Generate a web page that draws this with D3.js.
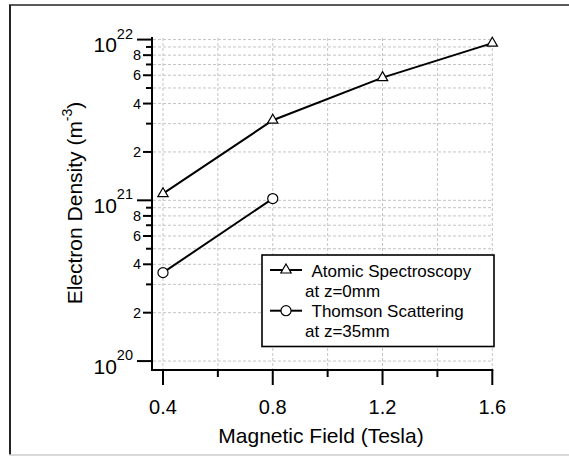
<!DOCTYPE html>
<html>
<head>
<meta charset="utf-8">
<script src="https://cdn.jsdelivr.net/npm/d3@7"></script>
<style>
  body { margin: 0; background: white; }
  svg { display: block; font-family: "Liberation Sans", Arial, sans-serif; }
</style>
</head>
<body>
<div id="chart"></div>
<script>
// data
const fieldAtomic = [0.4, 0.8, 1.2, 1.6];
const densityAtomic = [1.1e21, 3.15e21, 5.8e21, 9.5e21];
const fieldThomson = [0.4, 0.8];
const densityThomson = [3.55e20, 1.025e21];
const xMajorTicks = [0.4, 0.8, 1.2, 1.6];
const xMinorTicks = [0.6, 1.0, 1.4];
const legendNames = [["Atomic Spectroscopy", "at z=0mm"], ["Thomson Scattering", "at z=35mm"]];

const width = 569, height = 456;

const svg = d3.select("#chart").append("svg")
  .attr("width", width)
  .attr("height", height);

// outer frame (left + top dark, bottom faint)
svg.append("line").attr("x1", 10).attr("x2", 10).attr("y1", 5).attr("y2", 455)
  .attr("stroke", "#222").attr("stroke-width", 2);
svg.append("line").attr("x1", 9).attr("x2", width).attr("y1", 5).attr("y2", 5)
  .attr("stroke", "#222").attr("stroke-width", 1.6);
svg.append("line").attr("x1", 9).attr("x2", width).attr("y1", 455).attr("y2", 455)
  .attr("stroke", "#ccc").attr("stroke-width", 1.5);

const x = d3.scaleLinear().domain([0.36, 1.6]).range([152, 492.3]);
const y = d3.scaleLog().domain([8.8e19, 1.023e22]).range([370, 38]);

const yTicks = y.ticks().filter(d => d >= 1e20 * 0.999);
const mant = d => Math.round(d / Math.pow(10, Math.floor(Math.log10(d) + 1e-9)));

// grid
const grid = svg.append("g").attr("stroke", "#c4c4c4").attr("stroke-width", 1)
  .attr("stroke-dasharray", "3,2");
grid.selectAll(".gy").data(yTicks).enter().append("line")
  .attr("x1", x.range()[0] + 1).attr("x2", x(1.6))
  .attr("y1", d => y(d)).attr("y2", d => y(d));
grid.selectAll(".gx").data(xMajorTicks.concat(xMinorTicks)).enter().append("line")
  .attr("x1", d => x(d)).attr("x2", d => x(d))
  .attr("y1", y.range()[1]).attr("y2", y.range()[0]);

// y axis
const yAxis = svg.append("g");
yAxis.append("line").attr("x1", 152).attr("x2", 152)
  .attr("y1", y.range()[1] - 1).attr("y2", y.range()[0] + 1)
  .attr("stroke", "black").attr("stroke-width", 2);
yAxis.selectAll(".yt").data(yTicks).enter().append("line")
  .attr("x1", d => mant(d) === 1 ? 137 : (mant(d) % 2 === 0 ? 143 : 146))
  .attr("x2", 152)
  .attr("y1", d => y(d)).attr("y2", d => y(d))
  .attr("stroke", "black").attr("stroke-width", 2);
const ylab = yAxis.selectAll(".yl").data(yTicks.filter(d => mant(d) === 1 || mant(d) % 2 === 0))
  .enter().append("text")
  .attr("text-anchor", "end")
  .attr("fill", "black");
ylab.filter(d => mant(d) !== 1)
  .attr("x", 141).attr("y", d => y(d) + 5)
  .attr("font-size", 14.5)
  .text(d => mant(d));
ylab.filter(d => mant(d) === 1)
  .attr("x", 133).attr("y", d => y(d) + 12.5)
  .attr("font-size", 21)
  .each(function (d) {
    const t = d3.select(this);
    t.append("tspan").text("10");
    t.append("tspan").attr("font-size", 14.5).attr("dy", -13.5)
      .text(Math.round(Math.log10(d)));
  });

// x axis
const xAxis = svg.append("g");
xAxis.append("line").attr("x1", 151).attr("x2", x(1.6) + 1)
  .attr("y1", 370).attr("y2", 370)
  .attr("stroke", "black").attr("stroke-width", 2);
xAxis.selectAll(".xt").data(xMajorTicks).enter().append("line")
  .attr("x1", d => x(d)).attr("x2", d => x(d))
  .attr("y1", 370).attr("y2", 385)
  .attr("stroke", "black").attr("stroke-width", 2);
xAxis.selectAll(".xm").data(xMinorTicks).enter().append("line")
  .attr("x1", d => x(d)).attr("x2", d => x(d))
  .attr("y1", 370).attr("y2", 377)
  .attr("stroke", "black").attr("stroke-width", 2);
xAxis.selectAll(".xl").data(xMajorTicks).enter().append("text")
  .attr("x", d => x(d)).attr("y", 414)
  .attr("text-anchor", "middle").attr("font-size", 20)
  .text(d => d.toFixed(1));

// axis titles
svg.append("text")
  .attr("x", 321).attr("y", 443)
  .attr("text-anchor", "middle").attr("font-size", 21)
  .text("Magnetic Field (Tesla)");
const yt = svg.append("text")
  .attr("transform", "translate(82,203) rotate(-90)")
  .attr("text-anchor", "middle").attr("font-size", 21);
yt.append("tspan").text("Electron Density (m");
yt.append("tspan").attr("font-size", 14).attr("dy", -10).text("-3");
yt.append("tspan").attr("dy", 10).text(")");

// series
const line = d3.line().x(d => x(d[0])).y(d => y(d[1]));
const tri = d3.symbol(d3.symbolTriangle, 46);
const circ = d3.symbol(d3.symbolCircle, 80);

const atomic = fieldAtomic.map((f, i) => [f, densityAtomic[i]]);
const thomson = fieldThomson.map((f, i) => [f, densityThomson[i]]);

[[atomic, tri], [thomson, circ]].forEach(([pts, sym]) => {
  svg.append("path").datum(pts)
    .attr("d", line)
    .attr("fill", "none").attr("stroke", "black").attr("stroke-width", 2);
  svg.selectAll(null).data(pts).enter().append("path")
    .attr("d", sym)
    .attr("transform", d => `translate(${x(d[0])},${y(d[1])})`)
    .attr("fill", "white").attr("stroke", "black").attr("stroke-width", 1.2);
});

// legend
const lg = svg.append("g");
lg.append("rect").attr("x", 262).attr("y", 255).attr("width", 232).attr("height", 91.5)
  .attr("fill", "white").attr("stroke", "black").attr("stroke-width", 1.6);
[tri, circ].forEach((sym, i) => {
  const cy = 270 + i * 40.7;
  lg.append("line").attr("x1", 270).attr("x2", 302).attr("y1", cy).attr("y2", cy)
    .attr("stroke", "black").attr("stroke-width", 2);
  lg.append("path").attr("d", sym).attr("transform", `translate(286,${cy})`)
    .attr("fill", "white").attr("stroke", "black").attr("stroke-width", 1.2);
  lg.append("text").attr("x", 311.5).attr("y", cy + 6.5).attr("font-size", 17)
    .text(legendNames[i][0]);
  lg.append("text").attr("x", 305).attr("y", cy + 26.5).attr("font-size", 17)
    .text(legendNames[i][1]);
});
</script>
</body>
</html>
